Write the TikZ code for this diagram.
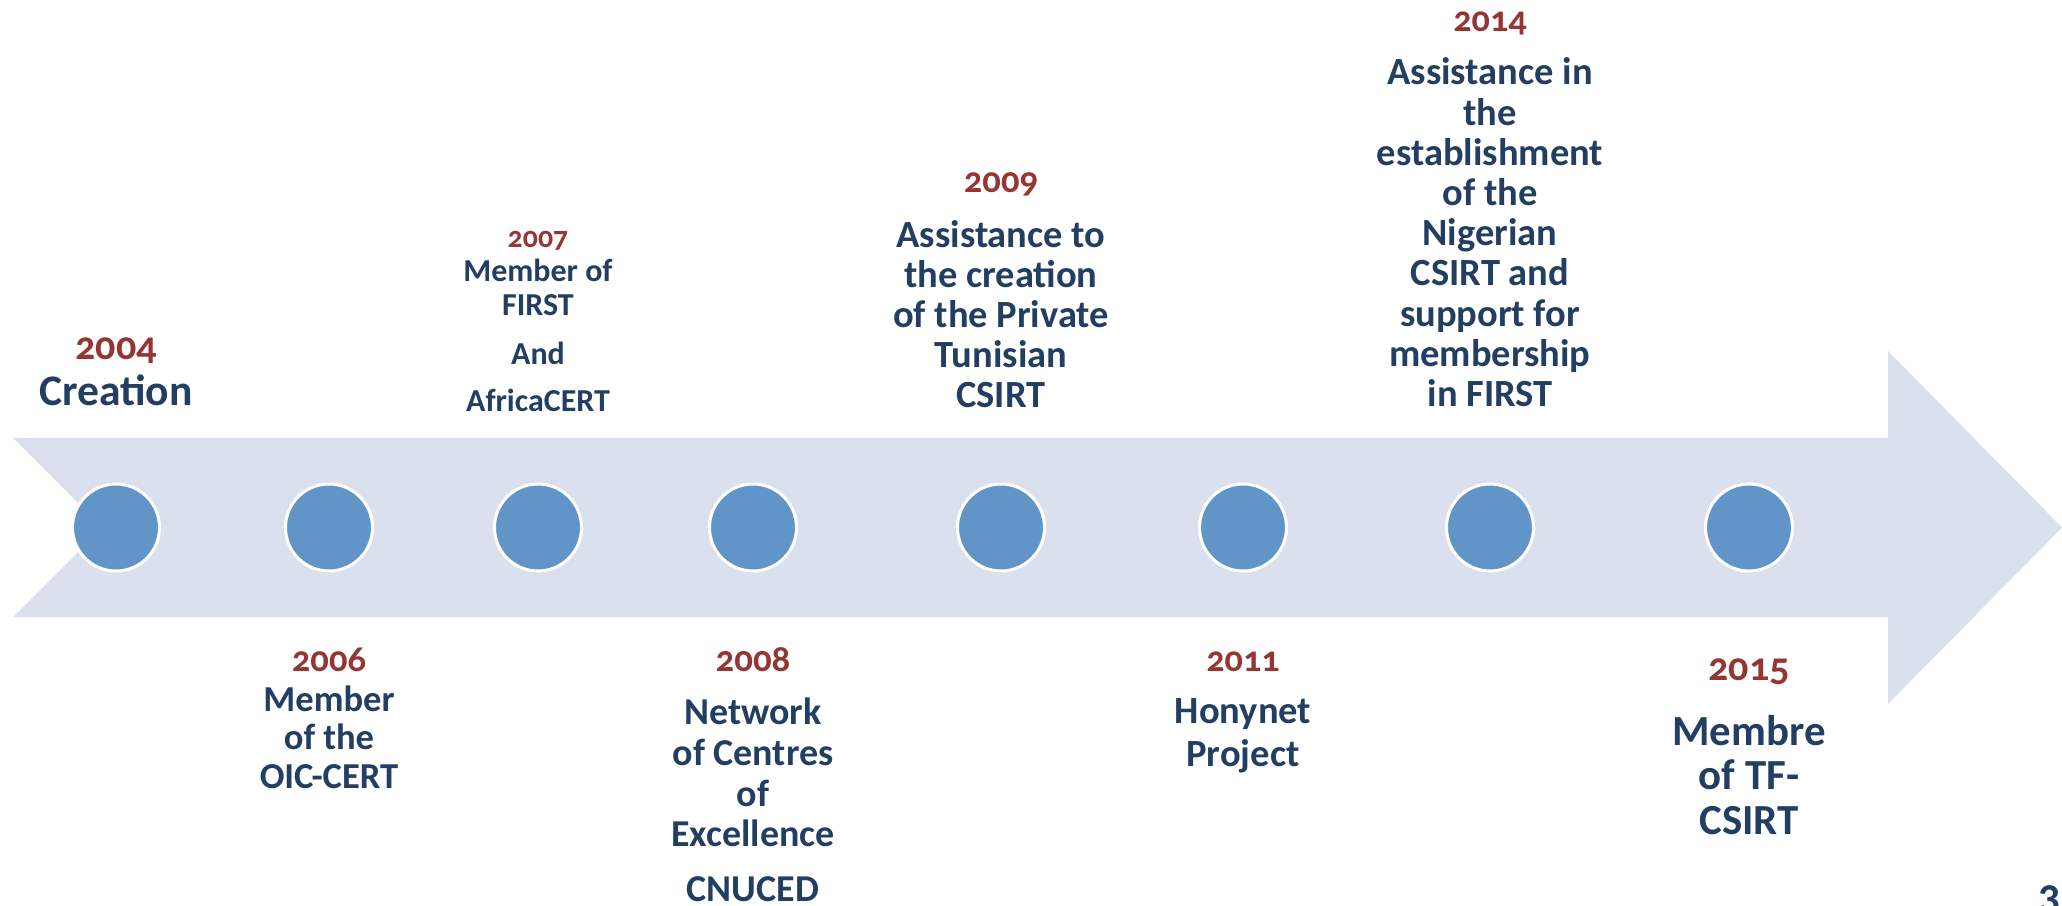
\documentclass[tikz,border=0pt]{standalone}
\usepackage{fontspec}
\setmainfont[Numbers=OldStyle]{Carlito}
\usetikzlibrary{positioning}
\definecolor{navytxt}{RGB}{34,62,98}
\definecolor{yearred}{RGB}{150,54,52}
\definecolor{dotblue}{RGB}{97,149,200}
\definecolor{arrowfill}{RGB}{219,224,238}

\begin{document}
\begin{tikzpicture}[x=0.1mm,y=-0.1mm,
	dot/.style={circle,fill=dotblue,draw=white,line width=0.3mm,minimum size=8.7mm,inner sep=0pt},
	yearlbl/.style={text=yearred,inner sep=0pt,anchor=base,font=\bfseries\fontsize{#1}{#1}\selectfont},
	eventlbl/.style 2 args={text=navytxt,inner sep=0pt,anchor=base,align=center,font=\bfseries\fontsize{#1}{#2}\selectfont}]
	\useasboundingbox (0,0) rectangle (2062,906);
	% the big arrow
	\fill[arrowfill] (13,438) -- (1888,438) -- (1888,351) -- (2062,527.5) -- (1888,704) -- (1888,617) -- (13,617) -- (102.5,527.5) -- cycle;
	% dots on the arrow
	\node[dot](d2004) at (116,527.5){};
	\node[dot](d2006)[right = 12.3mm of d2004]{};
	\node[dot](d2007)[right = 11.9mm of d2006]{};
	\node[dot](d2008)[right = 12.5mm of d2007]{};
	\node[dot](d2009)[right = 15.8mm of d2008]{};
	\node[dot](d2011)[right = 15.2mm of d2009]{};
	\node[dot](d2014)[right = 15.7mm of d2011]{};
	\node[dot](d2015)[right = 16.9mm of d2014]{};
	% above the arrow (y = baseline of the last line)
	\node[yearlbl=11.4pt](y2004) at (d2004 |- 0,360){2004};
	\node[eventlbl={12.4pt}{12.7pt}](e2004) at (d2004 |- 0,406){Creation};
	\node[yearlbl=8.5pt](y2007) at (d2007 |- 0,248){2007};
	\node[eventlbl={9.1pt}{9.5pt}](e2007) at (d2007 |- 0,411.7){Member of\\FIRST\\[4.5pt]And\\[4pt]AfricaCERT};
	\node[yearlbl=10.4pt](y2009) at (d2009 |- 0,193){2009};
	\node[eventlbl={10.95pt}{11.4pt}](e2009) at (d2009 |- 0,408){Assistance to\\the creation\\of the Private\\Tunisian\\CSIRT};
	\node[yearlbl=10.3pt](y2014) at (d2014 |- 0,31.7){2014};
	\node[eventlbl={10.95pt}{11.45pt}](e2014) at (d2014 |- 0,406.7){Assistance in\\the\\establishment\\of the\\Nigerian\\CSIRT and\\support for\\membership\\in FIRST};
	% below the arrow
	\node[yearlbl=10.4pt](y2006) at (d2006 |- 0,671.7){2006};
	\node[eventlbl={10.4pt}{10.9pt}](e2006) at (d2006 |- 0,788.3){Member\\of the\\OIC-CERT};
	\node[yearlbl=10.5pt](y2008) at (d2008 |- 0,671.7){2008};
	\node[eventlbl={10.8pt}{11.55pt}](e2008) at (d2008 |- 0,901){Network\\of Centres\\of\\Excellence\\[3.9pt]CNUCED};
	\node[yearlbl=10.3pt](y2011) at (d2011 |- 0,671.7){2011};
	\node[eventlbl={10.95pt}{12.35pt}](e2011) at (d2011 |- 0,766.7){Honynet\\Project};
	\node[yearlbl=11.4pt](y2015) at (d2015 |- 0,680){2015};
	\node[eventlbl={12.2pt}{12.66pt}](e2015) at (d2015 |- 0,834){Membre\\of TF-\\CSIRT};
	% page number
	\node[text=navytxt,inner sep=0pt,anchor=north west,font=\bfseries\fontsize{12.5pt}{12.5pt}\selectfont](pg) at (2038,885){3};
\end{tikzpicture}
\end{document}
